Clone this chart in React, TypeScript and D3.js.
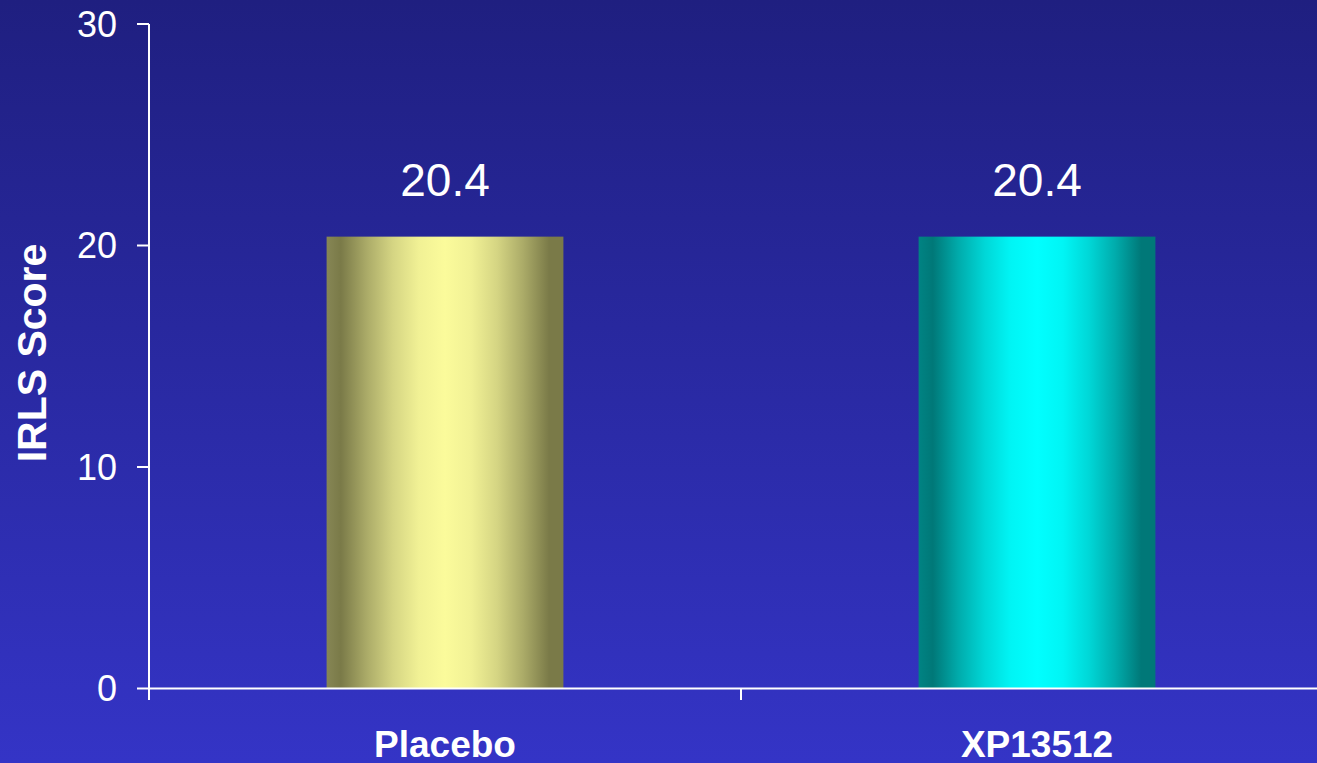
import React from "react";
import * as d3 from "d3";

const categories = ["Placebo", "XP13512"];
const values = [20.4, 20.4];
const valueLabels = ["20.4", "20.4"];
const yTicks = [0, 10, 20, 30];
const yTitle = "IRLS Score";

const W = 1317;
const H = 763;
const FONT = "'Liberation Sans', Arial, Helvetica, sans-serif";

const placeboStops = ["#868655", "#7a7a48", "#abab68", "#d5d583", "#f1f195", "#fbfb9b"];
const xpStops = ["#008383", "#007878", "#00acac", "#00d7d7", "#00f5f5", "#00ffff"];
const offsets = [0, 6, 17, 28, 39, 50];

function Grad({ id, colors }: { id: string; colors: string[] }) {
  const stops: { o: number; c: string }[] = [];
  offsets.forEach((o, i) => stops.push({ o, c: colors[i] }));
  for (let i = offsets.length - 2; i >= 0; i--) stops.push({ o: 100 - offsets[i], c: colors[i === 0 ? 1 : i] });
  return (
    <linearGradient id={id} x1="0" y1="0" x2="1" y2="0">
      {stops.map((s, k) => (
        <stop key={k} offset={`${s.o}%`} stopColor={s.c} />
      ))}
    </linearGradient>
  );
}

export default function App() {
  const x = d3.scaleBand<string>().domain(categories).range([149, 1333]).padding(0);
  const y = d3.scaleLinear().domain([0, 30]).range([688.5, 24]);
  const barW = x.bandwidth() * 0.4;
  const grads = ["gPlacebo", "gXP"];

  return (
    <svg width={W} height={H} style={{ position: "absolute", left: 0, top: 0 }} fontFamily={FONT}>
      <defs>
        <linearGradient id="bg" x1="0" y1="0" x2="0" y2="1">
          <stop offset="0%" stopColor="#1f1f80" />
          <stop offset="100%" stopColor="#3434c6" />
        </linearGradient>
        <Grad id="gPlacebo" colors={placeboStops} />
        <Grad id="gXP" colors={xpStops} />
      </defs>
      <rect x={0} y={0} width={W} height={H} fill="url(#bg)" />

      {categories.map((c, i) => {
        const cx = (x(c) as number) + x.bandwidth() / 2;
        return (
          <g key={c}>
            <rect
              x={cx - barW / 2}
              y={y(values[i])}
              width={barW}
              height={y(0) - y(values[i])}
              fill={`url(#${grads[i]})`}
            />
            <text x={cx} y={y(values[i]) - 41} textAnchor="middle" fill="#ffffff" fontSize={46}>
              {valueLabels[i]}
            </text>
            <text x={cx} y={757} textAnchor="middle" fill="#ffffff" fontSize={37} fontWeight="bold">
              {c}
            </text>
          </g>
        );
      })}

      {/* Y axis */}
      <line x1={149} x2={149} y1={y(30)} y2={700} stroke="#ffffff" strokeWidth={2} />
      {yTicks.map((t) => (
        <g key={t}>
          <line x1={137} x2={149} y1={y(t)} y2={y(t)} stroke="#ffffff" strokeWidth={2} />
          <text x={117} y={y(t)} dy="0.36em" textAnchor="end" fill="#ffffff" fontSize={36}>
            {t}
          </text>
        </g>
      ))}

      {/* X axis */}
      <line x1={149} x2={W} y1={y(0)} y2={y(0)} stroke="#ffffff" strokeWidth={2} />
      {categories.slice(1).map((c) => (
        <line key={c} x1={x(c) as number} x2={x(c) as number} y1={y(0)} y2={700} stroke="#ffffff" strokeWidth={2} />
      ))}

      <text
        transform="translate(46,353) rotate(-90)"
        textAnchor="middle"
        fill="#ffffff"
        fontSize={41}
        fontWeight="bold"
      >
        {yTitle}
      </text>
    </svg>
  );
}
